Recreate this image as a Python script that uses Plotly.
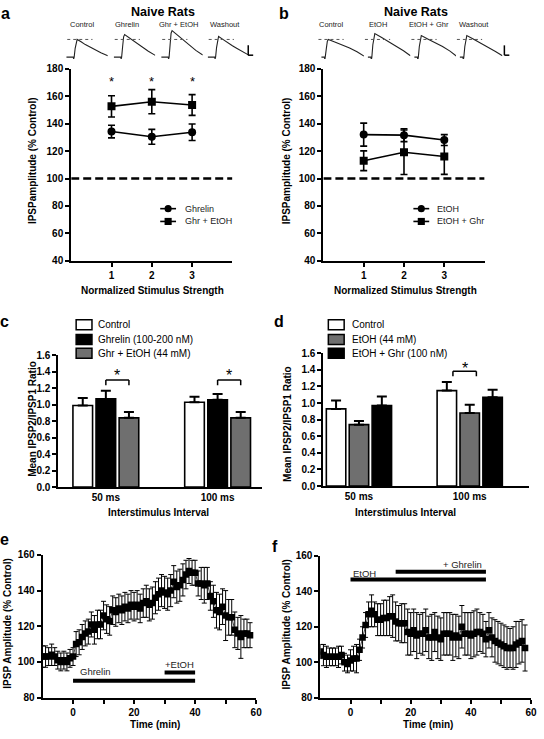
import plotly.graph_objects as go

W, H = 544, 739
FONT = "Liberation Sans, Arial, Helvetica, sans-serif"
GRAY = "#6f6f6f"


def px(x):
    return x / W


def py(y):
    return 1 - y / H


# ---------------- data ----------------
stim_strength = [1, 2, 3]
a_ghrelin = [134.3, 130.5, 133.8]
a_ghrelin_sem = [4.6, 5.4, 6.0]
a_ghr_etoh = [152.7, 156.1, 153.7]
a_ghr_etoh_sem = [7.8, 8.8, 7.6]
a_significance = ["*", "*", "*"]

b_etoh = [132.1, 131.7, 128.1]
b_etoh_sem = [8.4, 4.7, 4.0]
b_etoh_ghr = [113.0, 119.2, 116.1]
b_etoh_ghr_sem = [7.2, 16.2, 13.0]

isi_labels = ["50 ms", "100 ms"]
c_control = [0.99, 1.03]
c_control_sem = [0.09, 0.065]
c_ghrelin = [1.07, 1.06]
c_ghrelin_sem = [0.10, 0.07]
c_ghr_etoh = [0.84, 0.84]
c_ghr_etoh_sem = [0.07, 0.07]

d_control = [0.93, 1.15]
d_control_sem = [0.10, 0.105]
d_etoh = [0.74, 0.88]
d_etoh_sem = [0.045, 0.10]
d_etoh_ghr = [0.97, 1.07]
d_etoh_ghr_sem = [0.11, 0.09]

time_min = list(range(-10, 59))
e_amp = [103, 103, 103, 104, 103, 101, 100, 101, 100, 102,
         103, 110, 111, 114, 116, 117, 121, 118, 121, 121,
         126, 124, 123, 129, 128, 130, 129, 131, 130, 132,
         131, 132, 130, 133, 134, 132, 133, 136, 138, 140,
         139, 138, 140, 145, 142, 143, 146, 149, 151, 150,
         150, 144, 144, 143, 144, 137, 134, 129, 128, 131,
         126, 125, 125, 118, 116, 114, 116, 116, 115]
e_sem = [6, 6, 5, 6, 5, 5, 5, 5, 5, 5,
         5, 7, 7, 7, 7, 7, 7, 8, 8, 8,
         8, 8, 8, 8, 8, 8, 8, 8, 8, 8,
         8, 8, 8, 8, 9, 9, 9, 9, 9, 9,
         9, 9, 9, 9, 9, 9, 9, 8, 7, 7,
         7, 7, 9, 10, 9, 8, 9, 10, 10, 10,
         14, 10, 10, 10, 9, 12, 8, 8, 7]
f_amp = [106, 104, 103, 103, 103, 103, 103, 104, 100, 99,
         101, 102, 102, 107, 114, 121, 127, 129, 127, 124,
         124, 125, 125, 126, 126, 123, 122, 122, 122, 117,
         116, 118, 115, 116, 116, 118, 114, 114, 117, 114,
         113, 116, 116, 116, 114, 115, 114, 120, 116, 116,
         115, 116, 117, 117, 116, 113, 118, 114, 112, 111,
         110, 109, 108, 108, 108, 110, 111, 112, 108]
f_sem = [4, 6, 6, 5, 5, 5, 6, 5, 5, 5,
         6, 7, 8, 6, 6, 7, 7, 9, 7, 9,
         9, 10, 10, 11, 12, 11, 10, 11, 11, 13,
         12, 12, 13, 11, 12, 12, 12, 13, 11, 12,
         12, 12, 12, 12, 13, 12, 12, 12, 12, 12,
         13, 13, 13, 11, 11, 10, 10, 11, 12, 12,
         12, 12, 12, 11, 12, 13, 12, 12, 13]

# example IPSP traces (normalised to control peak)
a_trace_ms = [0, 28, 30, 32, 36, 40, 44, 60, 77, 100, 117, 140, 168]
a_trace_control = [0, 0, -0.1, 0.0, 0.5, 0.9, 1.0, 0.87, 0.71, 0.55, 0.42, 0.25, 0.08]
a_trace_ghrelin = [0, 0, -0.1, 0.0, 0.6, 1.15, 1.28, 1.12, 0.93, 0.71, 0.55, 0.33, 0.1]
a_trace_ghr_etoh = [0, 0, -0.1, 0.0, 0.7, 1.35, 1.5, 1.31, 1.08, 0.82, 0.63, 0.38, 0.12]
a_trace_washout = [0, 0, -0.1, 0.0, 0.55, 1.05, 1.17, 1.02, 0.84, 0.64, 0.5, 0.3, 0.1]
a_trace_labels = ["Control", "Ghrelin", "Ghr + EtOH", "Washout"]

b_trace_ms = [16, 28, 30, 32, 36, 40, 44, 70, 100, 130, 160, 188]
b_trace_control = [0, 0, -0.15, 0.0, 0.5, 0.9, 1.0, 0.86, 0.7, 0.52, 0.3, 0.06]
b_trace_etoh = [0, 0, -0.15, 0.0, 0.7, 1.2, 1.33, 1.12, 0.88, 0.62, 0.36, 0.08]
b_trace_etoh_ghr = [0, 0, -0.15, 0.0, 0.6, 1.1, 1.22, 1.03, 0.82, 0.6, 0.34, 0.04]
b_trace_washout = [0, 0, -0.15, 0.0, 0.6, 1.1, 1.22, 1.02, 0.8, 0.56, 0.32, 0.08]
b_trace_labels = ["Control", "EtOH", "EtOH + Ghr", "Washout"]

# ---------------- figure ----------------
fig = go.Figure()


def line_series(x, y, err, symbol, xa, ya, name):
    return go.Scatter(
        x=x, y=y, name=name, mode="lines+markers",
        line=dict(color="black", width=1.6),
        marker=dict(symbol=symbol, size=8, color="black"),
        error_y=dict(type="data", array=err, color="black", thickness=1.6, width=3.5),
        xaxis=xa, yaxis=ya, showlegend=False)


fig.add_trace(line_series(stim_strength, a_ghrelin, a_ghrelin_sem, "circle", "x", "y", "Ghrelin"))
fig.add_trace(line_series(stim_strength, a_ghr_etoh, a_ghr_etoh_sem, "square", "x", "y", "Ghr + EtOH"))
fig.add_trace(line_series(stim_strength, b_etoh, b_etoh_sem, "circle", "x2", "y2", "EtOH"))
fig.add_trace(line_series(stim_strength, b_etoh_ghr, b_etoh_ghr_sem, "square", "x2", "y2", "EtOH + Ghr"))


def bar_series(y, err, color, xa, ya, name):
    return go.Bar(
        x=isi_labels, y=y, name=name,
        marker=dict(color=color, line=dict(color="black", width=1.6)),
        error_y=dict(type="data", symmetric=False, array=err, arrayminus=[0] * len(err),
                     color="black", thickness=2, width=5),
        xaxis=xa, yaxis=ya, showlegend=False)


fig.add_trace(bar_series(c_control, c_control_sem, "white", "x3", "y3", "Control"))
fig.add_trace(bar_series(c_ghrelin, c_ghrelin_sem, "black", "x3", "y3", "Ghrelin (100-200 nM)"))
fig.add_trace(bar_series(c_ghr_etoh, c_ghr_etoh_sem, GRAY, "x3", "y3", "Ghr + EtOH (44 mM)"))
fig.add_trace(bar_series(d_control, d_control_sem, "white", "x4", "y4", "Control"))
fig.add_trace(bar_series(d_etoh, d_etoh_sem, GRAY, "x4", "y4", "EtOH (44 mM)"))
fig.add_trace(bar_series(d_etoh_ghr, d_etoh_ghr_sem, "black", "x4", "y4", "EtOH + Ghr (100 nM)"))


def time_series(y, err, xa, ya):
    return go.Scatter(
        x=time_min, y=y, mode="lines+markers",
        line=dict(color="#444", width=1),
        marker=dict(symbol="square", size=6.5, color="black"),
        error_y=dict(type="data", array=err, color="black", thickness=1, width=2.5),
        xaxis=xa, yaxis=ya, showlegend=False)


fig.add_trace(time_series(e_amp, e_sem, "x5", "y5"))
fig.add_trace(time_series(f_amp, f_sem, "x6", "y6"))

a_traces = [a_trace_control, a_trace_ghrelin, a_trace_ghr_etoh, a_trace_washout]
b_traces = [b_trace_control, b_trace_etoh, b_trace_etoh_ghr, b_trace_washout]
for i, tr in enumerate(a_traces):
    n = 7 + i
    fig.add_trace(go.Scatter(x=a_trace_ms, y=tr, mode="lines", line=dict(color="#222", width=1.1),
                             xaxis=f"x{n}", yaxis=f"y{n}", showlegend=False, hoverinfo="skip"))
for i, tr in enumerate(b_traces):
    n = 11 + i
    fig.add_trace(go.Scatter(x=b_trace_ms, y=tr, mode="lines", line=dict(color="#222", width=1.1),
                             xaxis=f"x{n}", yaxis=f"y{n}", showlegend=False, hoverinfo="skip"))

# ---------------- axes ----------------
tickfont = dict(family=FONT, size=10, color="black", weight="bold")
base = dict(showline=True, linecolor="black", linewidth=2, ticks="outside", ticklen=4,
            tickwidth=2, tickcolor="black", showgrid=False, zeroline=False, tickfont=tickfont)

layout = {}
layout["xaxis"] = dict(base, domain=[px(72), px(235)], range=[0, 4], tickvals=[1, 2, 3], anchor="y")
layout["yaxis"] = dict(base, domain=[py(259), py(64)], range=[40, 180],
                       tickvals=list(range(40, 181, 20)), anchor="x")
layout["xaxis2"] = dict(base, domain=[px(327), px(490)], range=[0, 4], tickvals=[1, 2, 3], anchor="y2")
layout["yaxis2"] = dict(base, domain=[py(259), py(64)], range=[40, 180],
                        tickvals=list(range(40, 181, 20)), anchor="x2")
layout["xaxis3"] = dict(base, domain=[px(59), px(265)], type="category", range=[-0.425, 1.398],
                        ticks="", anchor="y3")
layout["yaxis3"] = dict(base, domain=[py(489), py(355)], range=[0, 1.6], dtick=0.2,
                        tickformat=".1f", anchor="x3")
layout["xaxis4"] = dict(base, domain=[px(327), px(535)], type="category", range=[-0.321, 1.536],
                        ticks="", anchor="y4")
layout["yaxis4"] = dict(base, domain=[py(488), py(353)], range=[0, 1.6], dtick=0.2,
                        tickformat=".1f", anchor="x4")
tv = [0, 10, 20, 30, 40, 50, 60]
tt = ["0", "", "20", "", "40", "", "60"]
layout["xaxis5"] = dict(base, domain=[px(43), px(259)], range=[-10, 60], tickvals=tv, ticktext=tt, anchor="y5")
layout["yaxis5"] = dict(base, domain=[py(703), py(558)], range=[80, 160],
                        tickvals=[80, 100, 120, 140, 160], anchor="x5")
layout["xaxis6"] = dict(base, domain=[px(324), px(537)], range=[-10, 60], tickvals=tv, ticktext=tt, anchor="y6")
layout["yaxis6"] = dict(base, domain=[py(703), py(559)], range=[80, 160],
                        tickvals=[80, 100, 120, 140, 160], anchor="x6")

a_starts = [67, 115, 163, 210]
b_starts = [321, 368, 415, 461]
for i, s in enumerate(a_starts):
    n = 7 + i
    layout[f"xaxis{n}"] = dict(domain=[px(s), px(s + 42)], range=[0, 168], visible=False, anchor=f"y{n}")
    layout[f"yaxis{n}"] = dict(domain=[py(54), py(23)], range=[-0.111, 1.611], visible=False, anchor=f"x{n}")
for i, s in enumerate(b_starts):
    n = 11 + i
    layout[f"xaxis{n}"] = dict(domain=[px(s), px(s + 47)], range=[0, 188], visible=False, anchor=f"y{n}")
    layout[f"yaxis{n}"] = dict(domain=[py(54), py(23)], range=[-0.111, 1.611], visible=False, anchor=f"x{n}")

# ---------------- shapes ----------------
shapes = []
for xr, yr in [("x", "y"), ("x2", "y2")]:
    shapes.append(dict(type="line", xref=xr, yref=yr, x0=0, x1=4, y0=100, y1=100,
                       line=dict(color="black", width=2.5, dash="8px,4px")))
for n in range(7, 15):
    shapes.append(dict(type="line", xref=f"x{n}", yref=f"y{n}", x0=4, x1=106, y0=1.0, y1=1.0,
                       line=dict(color="#555", width=1, dash="dot")))
for sx in [251, 510]:
    shapes.append(dict(type="line", xref="paper", yref="paper", x0=px(sx), x1=px(sx),
                       y0=py(40), y1=py(50), line=dict(color="black", width=1.5)))
    shapes.append(dict(type="line", xref="paper", yref="paper", x0=px(sx), x1=px(sx + 5),
                       y0=py(50), y1=py(50), line=dict(color="black", width=1.5)))


def bracket(xr, yr, x0, x1, ytop, ybot):
    out = []
    for a0, a1, b0, b1 in [(x0, x0, ybot, ytop), (x0, x1, ytop, ytop), (x1, x1, ytop, ybot)]:
        out.append(dict(type="line", xref=xr, yref=yr, x0=a0, x1=a1, y0=b0, y1=b1,
                        line=dict(color="black", width=1.5)))
    return out


slot = (1 - 0.38) / 3
shapes += bracket("x3", "y3", 0, slot, 1.30, 1.235)
shapes += bracket("x3", "y3", 1, 1 + slot, 1.30, 1.235)
shapes += bracket("x4", "y4", 1 - slot + 0.055, 1.06, 1.383, 1.324)

shapes.append(dict(type="line", xref="x5", yref="y5", x0=0, x1=40, y0=89.5, y1=89.5,
                   line=dict(color="black", width=4)))
shapes.append(dict(type="line", xref="x5", yref="y5", x0=30, x1=40, y0=94, y1=94,
                   line=dict(color="black", width=4)))
shapes.append(dict(type="line", xref="x6", yref="y6", x0=0, x1=45, y0=146.7, y1=146.7,
                   line=dict(color="black", width=4)))
shapes.append(dict(type="line", xref="x6", yref="y6", x0=15, x1=45, y0=151.1, y1=151.1,
                   line=dict(color="black", width=4)))


def legend_row(x_mid, y, symbol):
    out = [dict(type="line", xref="paper", yref="paper", x0=px(x_mid - 8), x1=px(x_mid + 8),
                y0=py(y), y1=py(y), line=dict(color="black", width=1.6))]
    r = 3.6
    out.append(dict(type="circle" if symbol == "circle" else "rect", xref="paper", yref="paper",
                    x0=px(x_mid - r), x1=px(x_mid + r), y0=py(y + r), y1=py(y - r),
                    fillcolor="black", line=dict(color="black", width=0)))
    return out


shapes += legend_row(170, 206, "circle") + legend_row(170, 219, "square")
shapes += legend_row(426, 206, "circle") + legend_row(426, 219, "square")

c_leg_colors = ["white", "black", GRAY]
d_leg_colors = ["white", GRAY, "black"]
row_y = [324, 339, 353]
for bx, cols in [(77, c_leg_colors), (332, d_leg_colors)]:
    for yy, col in zip(row_y, cols):
        shapes.append(dict(type="rect", xref="paper", yref="paper", x0=px(bx), x1=px(bx + 16),
                           y0=py(yy + 5), y1=py(yy - 5), fillcolor=col,
                           line=dict(color="black", width=1.5)))

# ---------------- annotations ----------------
ann = []


def text(x, y, s, size=10, bold=False, angle=0, xanchor="center", color="black"):
    ann.append(dict(xref="paper", yref="paper", x=px(x), y=py(y), text=f"<b>{s}</b>" if bold else s,
                    showarrow=False, textangle=angle, xanchor=xanchor, yanchor="middle",
                    font=dict(family=FONT, size=size, color=color)))


text(6, 8, "a", 16, True)
text(287, 8, "b", 16, True)
text(5, 321, "c", 16, True)
text(282, 321, "d", 16, True)
text(5, 542, "e", 16, True)
text(278, 549, "f", 16, True)
text(165, 6, "Naive Rats", 12.5, True)
text(421, 6, "Naive Rats", 12.5, True)

for lab, xx in zip(a_trace_labels, [83, 128, 180, 228]):
    text(xx, 19, lab, 7.5, color="#222")
for lab, xx in zip(b_trace_labels, [335, 382, 434, 479]):
    text(xx, 19, lab, 7.5, color="#222")

text(33, 157, "IPSPamplitude (% Control)", 10, True, -90)
text(290, 157, "IPSPamplitude (% Control)", 10, True, -90)
text(154, 289, "Normalized Stimulus Strength", 10, True)
text(410, 289, "Normalized Stimulus Strength", 10, True)
text(33, 420, "Mean IPSP2/IPSP1 Ratio", 10, True, -90)
text(290, 425, "Mean IPSP2/IPSP1 Ratio", 10, True, -90)
text(160, 515, "Interstimulus Interval", 10, True)
text(410, 515, "Interstimulus Interval", 10, True)
text(8, 627, "IPSP Amplitude (% Control)", 10, True, -90)
text(290, 628, "IPSP Amplitude (% Control)", 10, True, -90)
text(157, 730, "Time (min)", 10, True)
text(433, 730, "Time (min)", 10, True)

text(185, 206, "Ghrelin", 9, xanchor="left", color="#222")
text(185, 219, "Ghr + EtOH", 9, xanchor="left", color="#222")
text(440, 206, "EtOH", 9, xanchor="left", color="#222")
text(440, 219, "EtOH + Ghr", 9, xanchor="left", color="#222")
for yy, lab in zip(row_y, ["Control", "Ghrelin (100-200 nM)", "Ghr + EtOH (44 mM)"]):
    text(97, yy, lab, 10, xanchor="left")
for yy, lab in zip(row_y, ["Control", "EtOH (44 mM)", "EtOH + Ghr (100 nM)"]):
    text(354, yy, lab, 10, xanchor="left")

for xv, s in zip(stim_strength, a_significance):
    ann.append(dict(xref="x", yref="y", x=xv, y=173, text=s, showarrow=False, yshift=-3,
                    font=dict(family=FONT, size=13, color="black")))
for xv in [slot / 2, 1 + slot / 2]:
    ann.append(dict(xref="x3", yref="y3", x=xv, y=1.40, text="*", showarrow=False, yshift=-4,
                    font=dict(family=FONT, size=16, color="black")))
ann.append(dict(xref="x4", yref="y4", x=(1 - slot + 0.055 + 1.06) / 2, y=1.46, text="*",
                showarrow=False, yshift=-4, font=dict(family=FONT, size=16, color="black")))

ann.append(dict(xref="x5", yref="y5", x=1.5, y=94.5, text="Ghrelin", showarrow=False, xanchor="left",
                font=dict(family=FONT, size=9.5, color="#222")))
ann.append(dict(xref="x5", yref="y5", x=35, y=98.8, text="+EtOH", showarrow=False,
                font=dict(family=FONT, size=9.5, color="#222")))
ann.append(dict(xref="x6", yref="y6", x=0.3, y=150.2, text="EtOH", showarrow=False, xanchor="left",
                font=dict(family=FONT, size=9.5, color="#222")))
ann.append(dict(xref="x6", yref="y6", x=44.5, y=155.2, text="+ Ghrelin", showarrow=False, xanchor="right",
                font=dict(family=FONT, size=9.5, color="#222")))

fig.update_layout(
    width=W, height=H, margin=dict(l=0, r=0, t=0, b=0),
    paper_bgcolor="white", plot_bgcolor="white",
    barmode="group", bargap=0.38, bargroupgap=0.15,
    font=dict(family=FONT, color="black"),
    shapes=shapes, annotations=ann, showlegend=False,
    **layout)

fig.write_html(
    "out.html",
    config={"displayModeBar": False, "responsive": False},
    post_script=("document.documentElement.style.margin='0';"
                 "document.documentElement.style.overflow='hidden';"
                 "document.body.style.margin='0';"
                 "document.body.style.overflow='hidden';"))
